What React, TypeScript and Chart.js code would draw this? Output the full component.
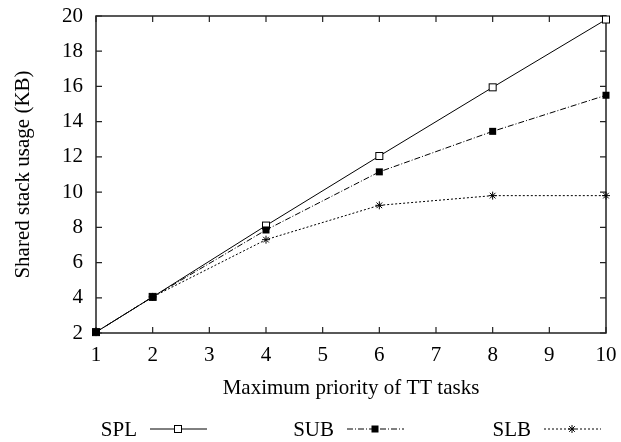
import React, { useEffect, useRef } from "react";
import { Chart, registerables } from "chart.js";
Chart.register(...registerables);

const xValues = [1, 2, 4, 6, 8, 10];
const splValues = [2.05, 4.05, 8.1, 12.05, 15.95, 19.8];
const subValues = [2.05, 4.05, 7.85, 11.15, 13.45, 15.5];
const slbValues = [2.05, 4.05, 7.3, 9.25, 9.8, 9.8];
const seriesLabels = ["SPL", "SUB", "SLB"];
const xTickValues = [1, 2, 3, 4, 5, 6, 7, 8, 9, 10];
const yTickValues = [2, 4, 6, 8, 10, 12, 14, 16, 18, 20];
const xTitle = "Maximum priority of TT tasks";
const yTitle = "Shared stack usage (KB)";

const FONT = "'Liberation Serif', 'Times New Roman', serif";
const FS = 21;

function drawMarker(ctx: CanvasRenderingContext2D, style: string, x: number, y: number) {
  ctx.save();
  ctx.setLineDash([]);
  ctx.lineWidth = 1;
  ctx.strokeStyle = "#000";
  ctx.fillStyle = "#000";
  if (style === "open") {
    ctx.fillStyle = "#fff";
    ctx.fillRect(x - 3.5, y - 3.5, 7, 7);
    ctx.strokeRect(x - 3.5, y - 3.5, 7, 7);
  } else if (style === "filled") {
    ctx.fillRect(x - 3.5, y - 3.5, 7, 7);
  } else {
    const r = 4;
    ctx.beginPath();
    ctx.moveTo(x - r, y); ctx.lineTo(x + r, y);
    ctx.moveTo(x, y - r); ctx.lineTo(x, y + r);
    const d = r * 0.707;
    ctx.moveTo(x - d, y - d); ctx.lineTo(x + d, y + d);
    ctx.moveTo(x - d, y + d); ctx.lineTo(x + d, y - d);
    ctx.stroke();
  }
  ctx.restore();
}

const markerStyles = ["open", "filled", "star"];
const dashes: number[][] = [[], [6, 2, 1, 2], [2, 2]];

const framePlugin = {
  id: "frame",
  beforeDatasetsDraw(chart: any) {
    const { ctx, chartArea: a, scales } = chart;
    ctx.save();
    ctx.strokeStyle = "#222";
    ctx.lineWidth = 1.5;
    ctx.strokeRect(a.left, a.top, a.right - a.left, a.bottom - a.top);
    ctx.lineWidth = 1.2;
    ctx.beginPath();
    const tl = 6;
    for (const v of xTickValues) {
      const px = scales.x.getPixelForValue(v);
      ctx.moveTo(px, a.bottom); ctx.lineTo(px, a.bottom - tl);
      ctx.moveTo(px, a.top); ctx.lineTo(px, a.top + tl);
    }
    for (const v of yTickValues) {
      const py = scales.y.getPixelForValue(v);
      ctx.moveTo(a.left, py); ctx.lineTo(a.left + tl, py);
      ctx.moveTo(a.right, py); ctx.lineTo(a.right - tl, py);
    }
    ctx.stroke();
    ctx.restore();
  },
};

const legendPlugin = {
  id: "customLegend",
  afterDraw(chart: any) {
    const { ctx } = chart;
    const y = 429;
    ctx.save();
    ctx.font = `${FS}px ${FONT}`;
    ctx.fillStyle = "#000";
    ctx.textAlign = "right";
    ctx.textBaseline = "middle";
    chart.data.datasets.forEach((ds: any, i: number) => {
      const lx = 150 + i * 197;
      ctx.fillText(ds.label, lx - 13, y + 1);
      ctx.save();
      ctx.strokeStyle = "#000";
      ctx.lineWidth = 1;
      ctx.setLineDash(dashes[i]);
      ctx.beginPath();
      ctx.moveTo(lx, y);
      ctx.lineTo(lx + 57, y);
      ctx.stroke();
      ctx.restore();
      drawMarker(ctx, markerStyles[i], lx + 28, y);
    });
    ctx.restore();
  },
};

const markerPlugin = {
  id: "markers",
  afterDatasetsDraw(chart: any) {
    const { ctx } = chart;
    chart.data.datasets.forEach((_ds: any, i: number) => {
      const meta = chart.getDatasetMeta(i);
      meta.data.forEach((pt: any) => drawMarker(ctx, markerStyles[i], pt.x, pt.y));
    });
  },
};

export default function App() {
  const ref = useRef<HTMLCanvasElement>(null);
  useEffect(() => {
    document.body.style.margin = "0";
    const seriesValues = [splValues, subValues, slbValues];
    const chart = new Chart(ref.current!, {
      type: "line",
      data: {
        datasets: seriesLabels.map((label, i) => ({
          label,
          data: xValues.map((x, j) => ({ x, y: seriesValues[i][j] })),
          borderColor: "#000",
          borderWidth: 1,
          borderDash: dashes[i],
          pointRadius: 0,
          fill: false,
          tension: 0,
          clip: false as any,
        })),
      },
      options: {
        animation: false,
        responsive: true,
        maintainAspectRatio: false,
        layout: { padding: { top: 16, right: 15, bottom: 30, left: 0 } },
        plugins: { legend: { display: false }, tooltip: { enabled: false } },
        scales: {
          x: {
            type: "linear",
            min: 1,
            max: 10,
            afterBuildTicks: (s: any) => { s.ticks = xTickValues.map((v) => ({ value: v })); },
            afterFit: (s: any) => { s.height = 79; s.paddingLeft = 0; s.paddingRight = 0; },
            grid: { display: false, drawTicks: false },
            border: { display: false },
            ticks: { color: "#000", font: { family: FONT, size: FS }, padding: 10 },
            title: { display: true, text: xTitle, color: "#000", font: { family: FONT, size: FS }, padding: { top: 0, bottom: 11 } },
          },
          y: {
            type: "linear",
            min: 2,
            max: 20,
            afterBuildTicks: (s: any) => { s.ticks = yTickValues.map((v) => ({ value: v })); },
            afterFit: (s: any) => { s.width = 96; s.paddingTop = 0; s.paddingBottom = 0; },
            grid: { display: false, drawTicks: false },
            border: { display: false },
            ticks: { color: "#000", font: { family: FONT, size: FS }, padding: 13 },
            title: { display: true, text: yTitle, color: "#000", font: { family: FONT, size: FS }, padding: { top: 11, bottom: 0 } },
          },
        },
      },
      plugins: [framePlugin, markerPlugin, legendPlugin],
    });
    return () => chart.destroy();
  }, []);
  return (
    <div style={{ position: "relative", width: 621, height: 442 }}>
      <canvas ref={ref} />
    </div>
  );
}
